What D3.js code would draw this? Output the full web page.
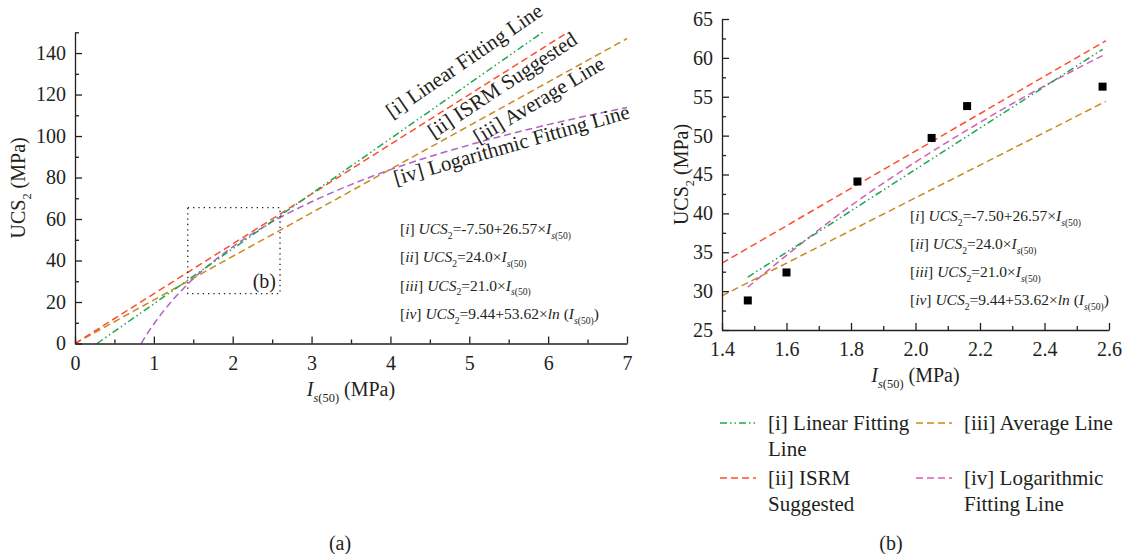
<!DOCTYPE html>
<html>
<head>
<meta charset="utf-8">
<script src="https://cdn.jsdelivr.net/npm/d3@7"></script>
<style>
  body { margin: 0; background: #fff; }
  svg { font-family: "Liberation Serif", serif; fill: #231f20; }
  .axis path, .axis line { stroke: #231f20; stroke-width: 1.3; }
  .axis text { font-family: "Liberation Serif", serif; font-size: 20px; fill: #231f20; }
</style>
</head>
<body>
<svg id="chart" width="1130" height="554"></svg>
<script>
// series names + styles
const seriesNames = ['[i] Linear Fitting Line', '[ii] ISRM Suggested', '[iii] Average Line', '[iv] Logarithmic Fitting Line'];
const legendLines = [['[i] Linear Fitting', 'Line'], ['[ii] ISRM', 'Suggested'], ['[iii] Average Line'], ['[iv] Logarithmic', 'Fitting Line']];
const colorsA = ['#1ba64f', '#ff4d2e', '#c98a22', '#b062c4'];
const colorsB = ['#1ba64f', '#ff4d2e', '#c98a22', '#d65db6'];
const dashes = ['7,3,1.5,3,1.5,3', '7,4', '7,4', '7,4'];

// panel (a): line points
const aLinX = [0.28, 5.93], aLinY = [0, 150];
const aIsrmX = [0, 6.25], aIsrmY = [0, 150];
const aAvgX = [0, 7], aAvgY = [0, 147];
const aLogX = [0.84, 0.9, 1, 1.1, 1.25, 1.5, 1.75, 2, 2.5, 3, 3.5, 4, 5, 6, 7];
const aLogY = [0, 3.8, 9.4, 14.5, 21.4, 31.2, 39.4, 46.6, 58.6, 68.3, 76.6, 83.8, 95.7, 105.5, 113.8];
const aXTicks = [0, 1, 2, 3, 4, 5, 6, 7];
const aYTicks = [0, 20, 40, 60, 80, 100, 120, 140];
const aZoomBoxX = [1.43, 2.6], aZoomBoxY = [24, 65.5];

// panel (b)
const bPointX = [1.48, 1.60, 1.82, 2.05, 2.16, 2.58];
const bPointY = [28.8, 32.4, 44.1, 49.7, 53.8, 56.3];
const bLinX = [1.48, 2.58], bLinY = [31.8, 61.1];
const bIsrmX = [1.4, 2.59], bIsrmY = [33.6, 62.2];
const bAvgX = [1.4, 2.59], bAvgY = [29.4, 54.4];
const bLogX = [1.48, 1.6, 1.8, 2.0, 2.2, 2.4, 2.58];
const bLogY = [30.5, 34.6, 41.0, 46.6, 51.7, 56.4, 60.3];
const bXTicks = [1.4, 1.6, 1.8, 2.0, 2.2, 2.4, 2.6];
const bYTicks = [25, 30, 35, 40, 45, 50, 55, 60, 65];

// equation text (i = italic, s = subscript)
const equations = [
  [['[', ''], ['i', 'i'], ['] ', ''], ['UCS', 'i'], ['2', 's'], ['=-7.50+26.57×', ''], ['I', 'i'], ['s', 'is'], ['(50)', 's']],
  [['[', ''], ['ii', 'i'], ['] ', ''], ['UCS', 'i'], ['2', 's'], ['=24.0×', ''], ['I', 'i'], ['s', 'is'], ['(50)', 's']],
  [['[', ''], ['iii', 'i'], ['] ', ''], ['UCS', 'i'], ['2', 's'], ['=21.0×', ''], ['I', 'i'], ['s', 'is'], ['(50)', 's']],
  [['[', ''], ['iv', 'i'], ['] ', ''], ['UCS', 'i'], ['2', 's'], ['=9.44+53.62×', ''], ['ln', 'i'], [' (', ''], ['I', 'i'], ['s', 'is'], ['(50)', 's'], [')', '']]
];
const yLabel = [['UCS', ''], ['2', 's'], [' (MPa)', '']];
const xLabel = [['I', 'i'], ['s', 'is'], ['(50)', 's'], [' (MPa)', '']];

// rotated line labels in panel (a): anchor in data units + angle
const aLabelX = [4.02, 4.55, 5.12, 4.07];
const aLabelY = [108.2, 98.6, 96.0, 76.3];
const aLabelAngle = [-34.5, -33.5, -31, -16];

const svg = d3.select('#chart');

function rich(text, parts, size) {
  let sub = false;
  parts.forEach(([t, f]) => {
    const isSub = f.includes('s');
    const ts = text.append('tspan').text(t)
      .style('font-style', f.includes('i') ? 'italic' : 'normal');
    if (isSub) ts.attr('font-size', size * 0.62);
    if (isSub !== sub) ts.attr('dy', isSub ? size * 0.3 : -size * 0.3);
    sub = isSub;
  });
}

function zip(xs, ys) { return xs.map((v, i) => [v, ys[i]]); }

function drawAxes(g, x, y, xt, xMinor, yt, yMinor, xFmt) {
  const font = '"Liberation Serif", serif';
  g.append('g').attr('class', 'axis').attr('transform', 'translate(0,' + y.range()[0] + ')')
    .call(d3.axisBottom(x).tickValues(xt).tickFormat(xFmt).tickSizeInner(-7).tickSizeOuter(0).tickPadding(12))
    .attr('font-family', font).attr('font-size', 20);
  g.append('g').attr('class', 'axis').attr('transform', 'translate(0,' + y.range()[0] + ')')
    .call(d3.axisBottom(x).tickValues(xMinor).tickFormat('').tickSizeInner(-4).tickSizeOuter(0))
    .select('.domain').remove();
  g.append('g').attr('class', 'axis').attr('transform', 'translate(' + x.range()[0] + ',0)')
    .call(d3.axisLeft(y).tickValues(yt).tickSizeInner(-7).tickSizeOuter(0).tickPadding(9))
    .attr('font-family', font).attr('font-size', 20);
  g.append('g').attr('class', 'axis').attr('transform', 'translate(' + x.range()[0] + ',0)')
    .call(d3.axisLeft(y).tickValues(yMinor).tickFormat('').tickSizeInner(-4).tickSizeOuter(0))
    .select('.domain').remove();
}

// ---------- panel (a)
const xa = d3.scaleLinear().domain([0, 7]).range([75, 627]);
const ya = d3.scaleLinear().domain([0, 150]).range([343.5, 32.3]);
const ga = svg.append('g');

const lineA = d3.line().x(d => xa(d[0])).y(d => ya(d[1]));
const aSeries = [zip(aLinX, aLinY), zip(aIsrmX, aIsrmY), zip(aAvgX, aAvgY), zip(aLogX, aLogY)];
// draw avg + log first so red/green sit on top
[2, 3, 1, 0].forEach(i => {
  ga.append('path').attr('d', (i === 3 ? lineA.curve(d3.curveMonotoneX) : lineA.curve(d3.curveLinear))(aSeries[i]))
    .attr('fill', 'none').attr('stroke', colorsA[i]).attr('stroke-width', 1.5)
    .attr('stroke-dasharray', dashes[i]);
});

ga.append('rect')
  .attr('x', xa(aZoomBoxX[0])).attr('y', ya(aZoomBoxY[1]))
  .attr('width', xa(aZoomBoxX[1]) - xa(aZoomBoxX[0])).attr('height', ya(aZoomBoxY[0]) - ya(aZoomBoxY[1]))
  .attr('fill', 'none').attr('stroke', '#231f20').attr('stroke-width', 1.3).attr('stroke-dasharray', '1.3,4');
ga.append('text').attr('x', xa(aZoomBoxX[1]) - 4).attr('y', ya(aZoomBoxY[0]) - 6)
  .attr('text-anchor', 'end').attr('font-size', 20).text('(b)');

drawAxes(ga, xa, ya, aXTicks, d3.range(0.5, 7, 1), aYTicks, d3.range(10, 151, 20), d3.format('d'));

seriesNames.forEach((n, i) => {
  ga.append('text').attr('font-size', 21)
    .attr('transform', 'translate(' + xa(aLabelX[i]) + ',' + ya(aLabelY[i]) + ') rotate(' + aLabelAngle[i] + ')')
    .text(n);
});

equations.forEach((eq, i) => {
  rich(ga.append('text').attr('x', 400).attr('y', 234 + i * 28.3).attr('font-size', 15.5), eq, 15.5);
});

rich(ga.append('text').attr('font-size', 20).attr('text-anchor', 'middle')
  .attr('transform', 'translate(25,' + (ya.range()[0] + ya.range()[1]) / 2 + ') rotate(-90)'), yLabel, 20);
rich(ga.append('text').attr('font-size', 20).attr('text-anchor', 'middle')
  .attr('x', (xa.range()[0] + xa.range()[1]) / 2).attr('y', 396), xLabel, 20);
ga.append('text').attr('x', 340).attr('y', 550).attr('text-anchor', 'middle').attr('font-size', 20).text('(a)');

// ---------- panel (b)
const xb = d3.scaleLinear().domain([1.4, 2.6]).range([722, 1109]);
const yb = d3.scaleLinear().domain([25, 65]).range([330, 19]);
const gb = svg.append('g');

const lineB = d3.line().x(d => xb(d[0])).y(d => yb(d[1]));
const bSeries = [zip(bLinX, bLinY), zip(bIsrmX, bIsrmY), zip(bAvgX, bAvgY), zip(bLogX, bLogY)];
[2, 3, 0, 1].forEach(i => {
  gb.append('path').attr('d', (i === 3 ? lineB.curve(d3.curveMonotoneX) : lineB.curve(d3.curveLinear))(bSeries[i]))
    .attr('fill', 'none').attr('stroke', colorsB[i]).attr('stroke-width', 1.5)
    .attr('stroke-dasharray', dashes[i]);
});

gb.selectAll('rect.pt').data(zip(bPointX, bPointY)).enter().append('rect').attr('class', 'pt')
  .attr('x', d => xb(d[0]) - 4).attr('y', d => yb(d[1]) - 4)
  .attr('width', 8).attr('height', 8).attr('fill', '#000');

drawAxes(gb, xb, yb, bXTicks, d3.range(1.5, 2.6, 0.2), bYTicks, d3.range(27.5, 65, 5), d3.format('.1f'));

equations.forEach((eq, i) => {
  rich(gb.append('text').attr('x', 910).attr('y', 221 + i * 28).attr('font-size', 15.5), eq, 15.5);
});

rich(gb.append('text').attr('font-size', 20).attr('text-anchor', 'middle')
  .attr('transform', 'translate(688,' + (yb.range()[0] + yb.range()[1]) / 2 + ') rotate(-90)'), yLabel, 20);
rich(gb.append('text').attr('font-size', 20).attr('text-anchor', 'middle')
  .attr('x', (xb.range()[0] + xb.range()[1]) / 2).attr('y', 382), xLabel, 20);

// legend
const legPos = [[720, 423], [720, 478], [916, 423], [916, 478]];
legendLines.forEach((lines, i) => {
  const [lx, ly] = legPos[i];
  gb.append('line').attr('x1', lx).attr('x2', lx + 36).attr('y1', ly).attr('y2', ly)
    .attr('stroke', colorsB[i]).attr('stroke-width', 1.5).attr('stroke-dasharray', dashes[i]);
  lines.forEach((t, j) => {
    gb.append('text').attr('x', lx + 48).attr('y', ly + 7 + j * 26).attr('font-size', 21).text(t);
  });
});

gb.append('text').attr('x', 891).attr('y', 550).attr('text-anchor', 'middle').attr('font-size', 20).text('(b)');
</script>
</body>
</html>
